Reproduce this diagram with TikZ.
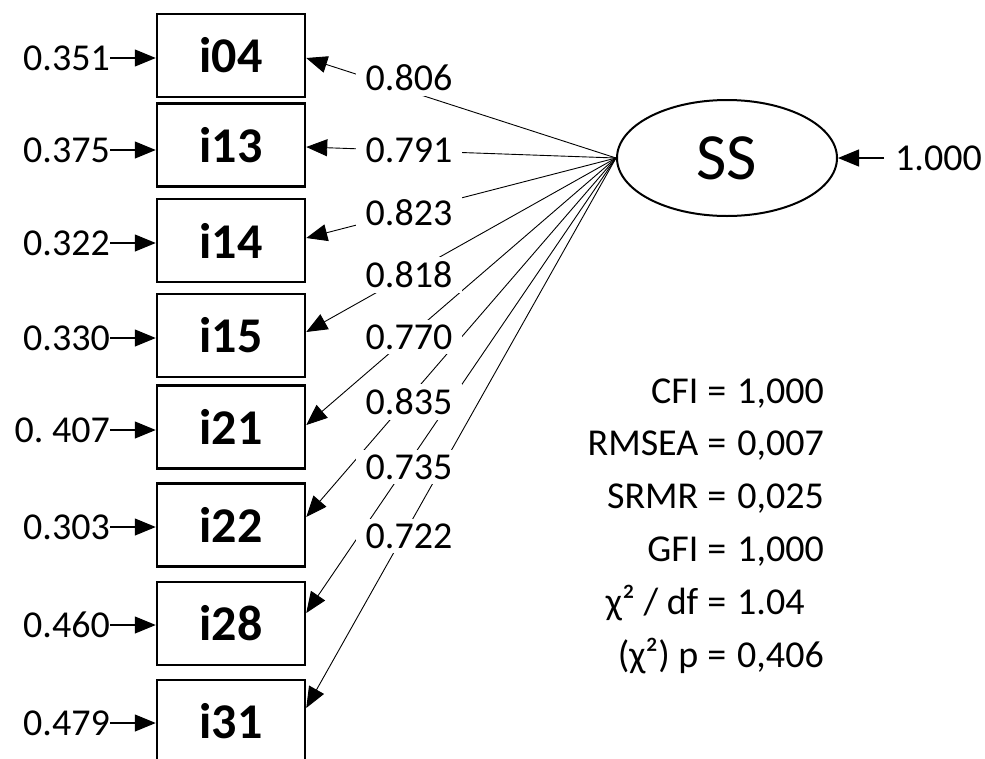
\documentclass[tikz,border=0pt]{standalone}
\usepackage{fontspec}
\setmainfont{Carlito}
\usetikzlibrary{arrows.meta,shapes.geometric,calc}
\begin{document}
\begin{tikzpicture}[x=1pt,y=-1pt,
 item/.style={draw, line width=2.5pt, minimum width=148pt, minimum height=83pt, inner sep=0pt, font=\fontsize{50}{52}\selectfont\bfseries},
 num/.style={font=\fontsize{38}{40}\selectfont, inner sep=0pt},
 loadlab/.style={num, fill=white, inner xsep=10pt, inner ysep=5pt},
 tip/.style={-{Triangle[length=21pt,width=17pt]}},
 errarrow/.style={tip, line width=1.2pt},
 loadarrow/.style={tip, line width=0.9pt},
]
\useasboundingbox (0,0) rectangle (985,758);
\fill[white] (0,0) rectangle (985,758);

% observed items
\node[item] (i04) at (231,55.5)  {i04};
\node[item] (i13) at (231,145)   {i13};
\node[item] (i14) at (231,240.5) {i14};
\node[item] (i15) at (231,335.5) {i15};
\node[item] (i21) at (231,427)   {i21};
\node[item] (i22) at (231,525)   {i22};
\node[item] (i28) at (231,623.5) {i28};
\node[item] (i31) at (231,721.5) {i31};

% error variances
\node[num, anchor=east] (e04) at (110,58)  {0.351};
\node[num, anchor=east] (e13) at (110,150) {0.375};
\node[num, anchor=east] (e14) at (110,243) {0.322};
\node[num, anchor=east] (e15) at (110,338) {0.330};
\node[num, anchor=east] (e21) at (110,430) {0.\ 407};
\node[num, anchor=east] (e22) at (110,527) {0.303};
\node[num, anchor=east] (e28) at (110,625) {0.460};
\node[num, anchor=east] (e31) at (110,723) {0.479};
\foreach \k in {04,13,14,15,21,22,28,31}
  \draw[errarrow] (e\k.east) -- (e\k.east -| i\k.west);

% latent
\node[ellipse, draw, line width=2pt, minimum width=220pt, minimum height=116pt, inner sep=0pt,
      font=\fontsize{66}{70}\selectfont] (ss) at (727,158) {SS};
\node[num, anchor=west] (eSS) at (895,158) {1.000};
\draw[errarrow] ([xshift=-11pt]eSS.west) -- (ss.east);

% loading tips
\coordinate (t04) at ([yshift=-2.5pt]i04.east);
\coordinate (t13) at ([yshift=-2pt]i13.east);
\coordinate (t14) at ([yshift=2.5pt]i14.east);
\coordinate (t15) at ([yshift=3.5pt]i15.east);
\coordinate (t21) at ([yshift=2pt]i21.east);
\coordinate (t22) at ([yshift=8pt]i22.east);
\coordinate (t28) at ([yshift=10.5pt]i28.east);
\coordinate (t31) at ([yshift=13.5pt]i31.east);
\foreach \k in {04,13,14,15,21,22,28,31}
  \draw[loadarrow] (ss.west) -- (t\k);

% loading labels
\node[loadlab] (l04) at (409,77.5) {0.806};
\node[loadlab] (l13) at (409,150)  {0.791};
\node[loadlab] (l14) at (409,213)  {0.823};
\node[loadlab] (l15) at (409,275)  {0.818};
\node[loadlab] (l21) at (409,337)  {0.770};
\node[loadlab] (l22) at (409,402)  {0.835};
\node[loadlab] (l28) at (409,467)  {0.735};
\node[loadlab] (l31) at (409,536)  {0.722};

% fit indices
\node[anchor=north east, inner sep=0pt, font=\fontsize{38}{52.8}\selectfont] (fit) at (824,366)
{\begin{tabular}{@{}r@{\hspace{9pt}=\hspace{11pt}}l@{}}
CFI & 1,000\\
RMSEA & 0,007\\
SRMR & 0,025\\
GFI & 1,000\\
χ² / df & 1.04\\
(χ²) p & 0,406
\end{tabular}};
\end{tikzpicture}
\end{document}
